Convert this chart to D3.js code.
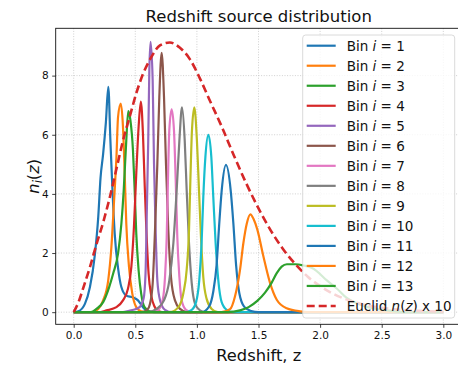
<!DOCTYPE html>
<html><head><meta charset="utf-8">
<script src="https://cdn.jsdelivr.net/npm/d3@7"></script>
<style>
html,body{margin:0;padding:0;background:#fff;}
svg{display:block;font-family:"DejaVu Sans",sans-serif;}
</style></head>
<body><svg id="c" width="458" height="365"></svg>
<script>
// ---- data (z, n_i(z)) ----
const bin1 = [[0,0],[0.038,0.03],[0.091,0.28],[0.132,0.85],[0.172,1.95],[0.199,3.2],[0.218,4.55],[0.239,5.35],[0.261,6.4],[0.281,7.62],[0.298,5.8],[0.315,4.1],[0.333,2.65],[0.36,1.5],[0.387,0.85],[0.427,0.56],[0.481,0.5],[0.522,0.4],[0.562,0.17],[0.602,0.03],[0.65,0],[3,0]];
const bin2 = [[0,0],[0.15,0],[0.199,0.11],[0.239,0.4],[0.28,1.07],[0.306,2.2],[0.328,3.79],[0.347,5.25],[0.36,6.6],[0.382,7.05],[0.4,6.27],[0.414,4.69],[0.427,2.99],[0.449,1.53],[0.476,0.62],[0.508,0.17],[0.548,0.03],[0.6,0],[3,0]];
const bin3 = [[0,0],[0.14,0],[0.185,0.11],[0.239,0.34],[0.288,0.85],[0.32,1.3],[0.36,1.98],[0.387,2.99],[0.406,4.12],[0.427,5.82],[0.443,6.8],[0.46,6.5],[0.481,5.48],[0.495,4.12],[0.508,2.66],[0.527,1.41],[0.548,0.62],[0.575,0.17],[0.616,0.03],[0.66,0],[3,0]];
const bin4 = [[0,0],[0.2,0],[0.266,0.06],[0.347,0.17],[0.4,0.4],[0.441,0.8],[0.468,1.53],[0.489,2.88],[0.508,4.69],[0.527,6.27],[0.545,7.12],[0.562,6.05],[0.575,4.46],[0.589,2.88],[0.608,1.3],[0.63,0.55],[0.655,0.2],[0.69,0.03],[0.74,0],[3,0]];
const bin5 = [[0,0],[0.4,0],[0.45,0.05],[0.5,0.1],[0.535,0.17],[0.567,0.45],[0.583,1.3],[0.594,3.5],[0.605,5.8],[0.614,8.2],[0.624,9.14],[0.641,7.84],[0.652,5.02],[0.665,2.77],[0.679,1.07],[0.701,0.4],[0.741,0.08],[0.8,0],[3,0]];
const bin6 = [[0,0],[0.55,0],[0.6,0.1],[0.619,0.28],[0.641,0.96],[0.66,2.77],[0.679,5.02],[0.695,7.28],[0.714,8.77],[0.733,7.28],[0.749,5.02],[0.768,2.77],[0.79,1.18],[0.822,0.4],[0.863,0.11],[0.92,0],[3,0]];
const bin7 = [[0,0],[0.62,0],[0.687,0.08],[0.722,0.4],[0.741,1.18],[0.755,2.54],[0.765,4.46],[0.776,6.15],[0.795,6.86],[0.814,6.15],[0.828,4.46],[0.841,2.54],[0.858,1.18],[0.876,0.4],[0.911,0.08],[0.96,0],[3,0]];
const bin8 = [[0,0],[0.6,0],[0.673,0.11],[0.733,0.4],[0.776,1.07],[0.809,2.33],[0.836,4.13],[0.858,5.82],[0.879,6.93],[0.901,5.82],[0.917,4.13],[0.936,2.33],[0.958,0.98],[0.985,0.28],[1.025,0.06],[1.07,0],[3,0]];
const bin9 = [[0,0],[0.78,0],[0.85,0.17],[0.89,0.64],[0.917,1.43],[0.936,2.77],[0.947,4.46],[0.96,6.15],[0.979,6.93],[1.0,5.82],[1.017,4.13],[1.033,2.54],[1.052,1.18],[1.079,0.45],[1.12,0.11],[1.17,0],[3,0]];
const bin10 = [[0,0],[0.9,0],[0.958,0.08],[0.993,0.34],[1.019,1.07],[1.038,2.33],[1.052,3.9],[1.069,5.25],[1.093,6.0],[1.117,5.25],[1.133,3.9],[1.152,2.33],[1.174,1.07],[1.201,0.34],[1.242,0.08],[1.3,0],[3,0]];
const bin11 = [[0,0],[1.04,0],[1.1,0.2],[1.133,0.7],[1.16,1.6],[1.18,2.9],[1.201,4.1],[1.236,4.98],[1.274,4.13],[1.296,3.0],[1.318,1.6],[1.344,0.65],[1.385,0.18],[1.44,0.04],[1.5,0],[3,0]];
const bin12 = [[0,0],[1.2,0],[1.269,0.1],[1.309,0.53],[1.35,1.43],[1.377,2.33],[1.405,3.0],[1.434,3.31],[1.46,3.15],[1.49,2.8],[1.539,1.9],[1.593,1.0],[1.648,0.42],[1.729,0.13],[1.837,0.03],[1.95,0],[3,0]];
const bin13 = [[0,0],[1.25,0],[1.35,0.06],[1.42,0.17],[1.49,0.38],[1.553,0.66],[1.607,1.0],[1.648,1.32],[1.688,1.54],[1.73,1.62],[1.8,1.62],[1.864,1.58],[1.93,1.5],[1.97,1.4],[2.05,1.09],[2.135,0.8],[2.216,0.48],[2.297,0.3],[2.405,0.15],[2.567,0.05],[2.7,0],[3,0]];
const euclid = [[0,0],[0.04,0.35],[0.08,0.85],[0.13,1.5],[0.185,2.3],[0.24,3.05],[0.3,4.0],[0.35,4.9],[0.4,5.8],[0.454,6.6],[0.508,7.4],[0.562,8.05],[0.62,8.55],[0.7,9.02],[0.78,9.12],[0.86,8.95],[0.944,8.55],[1.025,7.9],[1.1,7.2],[1.2,6.29],[1.3,5.3],[1.4,4.36],[1.5,3.51],[1.6,2.76],[1.7,2.13],[1.8,1.62],[1.9,1.2],[2.0,0.88],[2.2,0.45],[2.4,0.22],[2.6,0.1],[2.8,0.045],[3.0,0.02]];
const bins = [bin1,bin2,bin3,bin4,bin5,bin6,bin7,bin8,bin9,bin10,bin11,bin12,bin13];
const binLabels = ["1","2","3","4","5","6","7","8","9","10","11","12","13"];
const binColors = ["#1f77b4","#ff7f0e","#2ca02c","#d62728","#9467bd","#8c564b","#e377c2","#7f7f7f","#bcbd22","#17becf","#1f77b4","#ff7f0e","#2ca02c"];
const xTicks = [0,0.5,1.0,1.5,2.0,2.5,3.0];
const yTicks = [0,2,4,6,8];
const titleText = "Redshift source distribution";
const xLabelText = "Redshift, z";

// ---- layout ----
const svg = d3.select("#c");
const L = 55.7, R = 461.8, T = 28.3, B = 324.3;
const x = d3.scaleLinear().domain([-0.146, 3.15]).range([L, R]);
const y = d3.scaleLinear().domain([-0.41, 9.6]).range([B, T]);

svg.append("clipPath").attr("id","clip").append("rect")
  .attr("x",L).attr("y",T).attr("width",R-L).attr("height",B-T);

// grid
const grid = svg.append("g");
xTicks.forEach(t=>grid.append("line").attr("x1",x(t)).attr("x2",x(t)).attr("y1",T).attr("y2",B)
  .attr("stroke","#c4c4c4").attr("stroke-width",0.8).attr("stroke-dasharray","1,1.6"));
yTicks.forEach(t=>grid.append("line").attr("x1",L).attr("x2",R).attr("y1",y(t)).attr("y2",y(t))
  .attr("stroke","#c4c4c4").attr("stroke-width",0.8).attr("stroke-dasharray","1,1.6"));

// curves
const line = d3.line().x(d=>x(d[0])).y(d=>y(d[1])).curve(d3.curveMonotoneX);
const plot = svg.append("g").attr("clip-path","url(#clip)");
bins.forEach((b,i)=>plot.append("path").attr("d",line(b)).attr("fill","none")
  .attr("stroke",binColors[i]).attr("stroke-width",2.2).attr("stroke-linejoin","round"));
plot.append("path").attr("d",line(euclid)).attr("fill","none")
  .attr("stroke","#d62728").attr("stroke-width",2.6).attr("stroke-dasharray","8,4");

// axes
const xa = svg.append("g").attr("transform",`translate(0,${B})`)
  .call(d3.axisBottom(x).tickValues(xTicks).tickFormat(d3.format(".1f")).tickSize(3.5).tickPadding(3.5));
const ya = svg.append("g").attr("transform",`translate(${L},0)`)
  .call(d3.axisLeft(y).tickValues(yTicks).tickFormat(d3.format("d")).tickSize(3.5).tickPadding(3.5));
[xa,ya].forEach(a=>{
  a.select(".domain").remove();
  a.selectAll("line").attr("stroke","#111").attr("stroke-width",0.8);
  a.selectAll("text").attr("font-family","DejaVu Sans").attr("font-size",10.5).attr("fill","#111");
});
// spines
svg.append("rect").attr("x",L).attr("y",T).attr("width",R-L).attr("height",B-T)
  .attr("fill","none").attr("stroke","#111").attr("stroke-width",0.9);

// title & labels
svg.append("text").attr("x",(L+R)/2).attr("y",22).attr("text-anchor","middle")
  .attr("font-size",16.5).attr("fill","#111").text(titleText);
svg.append("text").attr("x",(L+R)/2).attr("y",361).attr("text-anchor","middle")
  .attr("font-size",16.3).attr("fill","#111").text(xLabelText);
const yl = svg.append("text").attr("transform",`translate(39,${(T+B)/2}) rotate(-90)`)
  .attr("text-anchor","middle").attr("font-size",16.3).attr("fill","#111");
yl.append("tspan").attr("font-style","italic").text("n");
yl.append("tspan").attr("font-style","italic").attr("font-size",11.5).attr("dy",3).text("i");
yl.append("tspan").attr("dy",-3).text("(");
yl.append("tspan").attr("font-style","italic").text("z");
yl.append("tspan").text(")");

// legend
const lg = svg.append("g");
const lx0 = 302.7, ly0 = 35, lw = 152, lh = 283, rowH = 20.02, row0 = 45.7;
lg.append("rect").attr("x",lx0).attr("y",ly0).attr("width",lw).attr("height",lh).attr("rx",3)
  .attr("fill","#fff").attr("fill-opacity",0.8).attr("stroke","#d0d0d0").attr("stroke-width",0.8);
binLabels.forEach((lab,i)=>{
  const cy = row0 + i*rowH;
  lg.append("line").attr("x1",306.7).attr("x2",335.7).attr("y1",cy).attr("y2",cy)
    .attr("stroke",binColors[i]).attr("stroke-width",2.2);
  const t = lg.append("text").attr("x",346.7).attr("y",cy).attr("dy","0.36em")
    .attr("font-size",13.5).attr("fill","#111");
  t.append("tspan").text("Bin ");
  t.append("tspan").attr("font-style","italic").text("i");
  t.append("tspan").text(" = "+lab);
});
{
  const cy = row0 + 13*rowH;
  lg.append("line").attr("x1",306.7).attr("x2",335.7).attr("y1",cy).attr("y2",cy)
    .attr("stroke","#d62728").attr("stroke-width",2.6).attr("stroke-dasharray","8,4");
  const t = lg.append("text").attr("x",346.7).attr("y",cy).attr("dy","0.36em")
    .attr("font-size",13.5).attr("fill","#111");
  t.append("tspan").text("Euclid ");
  t.append("tspan").attr("font-style","italic").text("n");
  t.append("tspan").text("(");
  t.append("tspan").attr("font-style","italic").text("z");
  t.append("tspan").text(") x 10");
}
</script></body></html>
